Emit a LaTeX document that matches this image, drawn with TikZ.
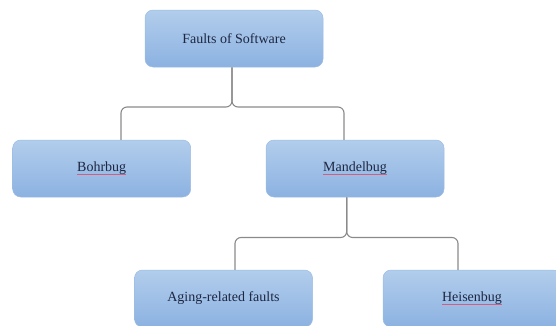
\documentclass[tikz,border=0pt]{standalone}
\usepackage{fontspec}
\setmainfont{Liberation Serif}
\definecolor{boxtop}{HTML}{B2CDEC}
\definecolor{boxbot}{HTML}{8CB2E1}
\definecolor{boxedge}{HTML}{9BBCE4}
\definecolor{txt}{HTML}{1E2742}
\definecolor{conncol}{HTML}{8A8A8A}
\definecolor{wavecol}{HTML}{D0607F}
\newsavebox{\spellbox}
\newcommand{\spellu}[1]{\sbox{\spellbox}{#1}\rlap{\textcolor{wavecol}{\rule[-2.6pt]{\wd\spellbox}{0.7pt}}}\usebox{\spellbox}}
\tikzset{
  faultbox/.style={rectangle, rounded corners=8pt, minimum width=178pt, minimum height=57pt,
    top color=boxtop, bottom color=boxbot, draw=boxedge, line width=0.5pt,
    text=txt, font=\fontsize{14}{16}\selectfont, inner sep=0pt},
  conn/.style={draw=conncol, line width=1.1pt, rounded corners=6pt}
}
\begin{document}
\begin{tikzpicture}[x=1pt,y=1pt]
\useasboundingbox (0,0) rectangle (556,325);
\clip (0,0) rectangle (556,325);
\node[faultbox] (top) at (234,286.5) {Faults of Software};
\node[faultbox] (bohr) at (101.7,156.5) {\spellu{Bohrbug}};
\node[faultbox] (mand) at (355,156.5) {\spellu{Mandelbug}};
\node[faultbox] (aging) at (223.5,26.5) {Aging-related faults};
\node[faultbox] (heis) at (472,26.5) {\spellu{Heisenbug}};
% first brace
\coordinate (tj) at ([xshift=-2pt]top.south);
\coordinate (m1) at (232,218);
\draw[conn] (tj) -- (m1) -| ([xshift=19.3pt]bohr.north);
\draw[conn] (tj) -- (m1) -| ([xshift=-11pt]mand.north);
% second brace
\coordinate (mj) at ([xshift=-8.3pt]mand.south);
\coordinate (m2) at (346.7,87.5);
\draw[conn] (mj) -- (m2) -| ([xshift=11.5pt]aging.north);
\draw[conn] (mj) -- (m2) -| ([xshift=-14pt]heis.north);
\end{tikzpicture}
\end{document}
